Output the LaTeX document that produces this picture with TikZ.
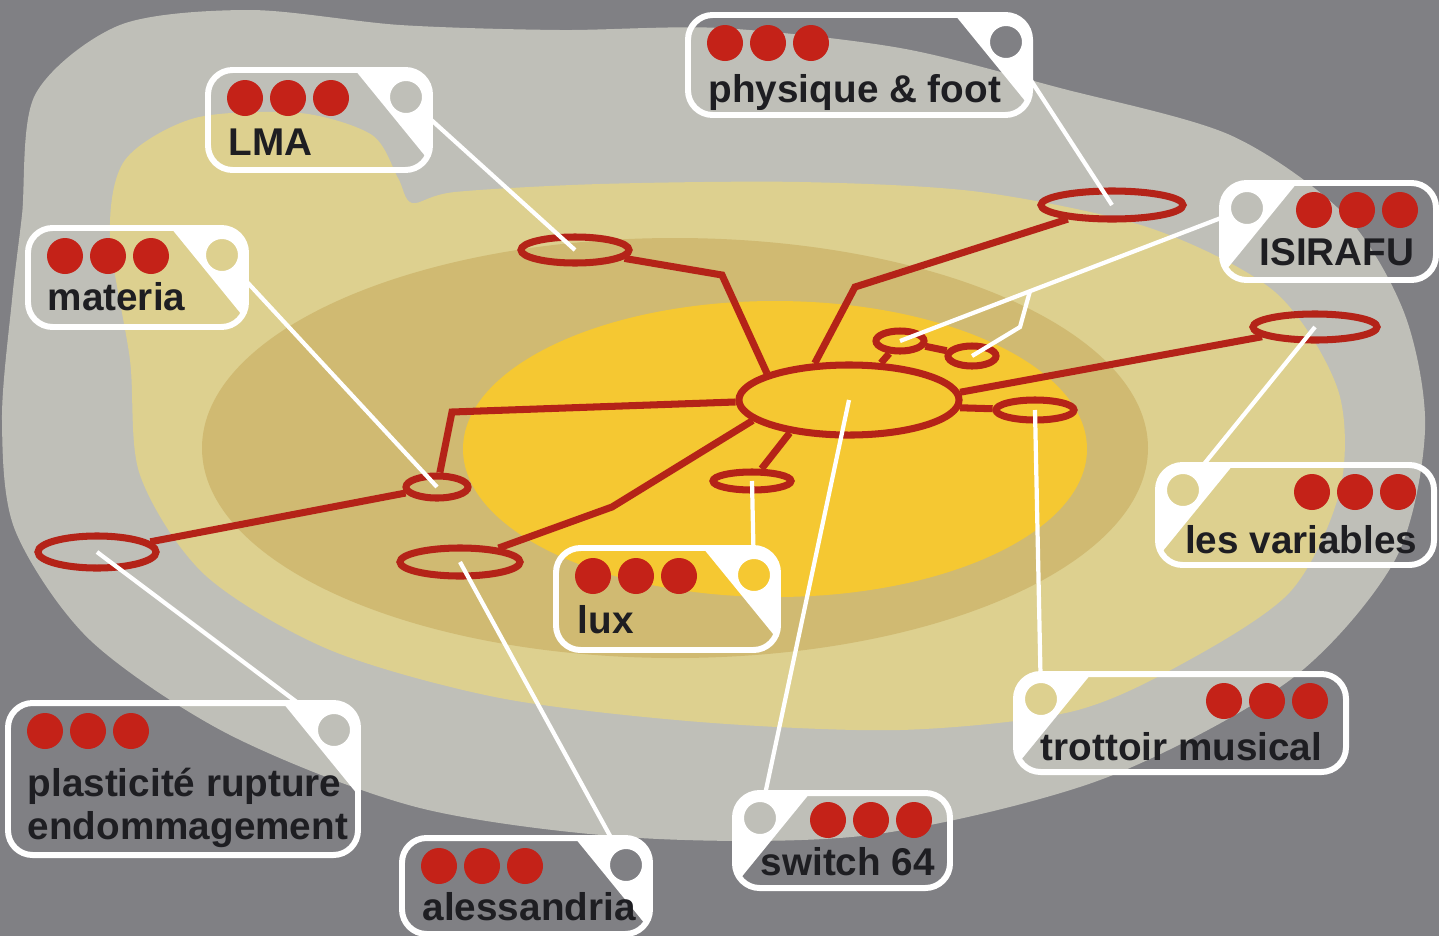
\documentclass[tikz,border=0pt]{standalone}
\usepackage{fontspec}
\setmainfont{Liberation Sans}
\usetikzlibrary{shapes.geometric}

\definecolor{bgdark}{RGB}{128,128,132}
\definecolor{bglight}{RGB}{191,191,184}
\definecolor{pale}{RGB}{221,208,143}
\definecolor{khaki}{RGB}{208,186,114}
\definecolor{sun}{RGB}{245,200,50}
\definecolor{netred}{RGB}{180,35,24}
\definecolor{dotred}{RGB}{196,34,24}
\definecolor{ink}{RGB}{30,30,34}

\tikzset{
  ring/.style={ellipse, draw=netred, line width=2pt, inner sep=0pt},
  link/.style={draw=netred, line width=2pt},
  wire/.style={draw=white, line width=1.2pt},
  tagline/.style={draw=white, line width=1.7pt, rounded corners=7pt},
  hole/.style={circle, minimum size=0.32cm, inner sep=0pt},
  dot/.style={fill=dotred},
  lbl/.style={text=ink, font=\fontsize{11}{12}\selectfont\bfseries, inner sep=0pt},
}

% tag with the hole at the top right / top left
\def\tagR#1(#2,#3)(#4,#5){%
  \begin{scope}
    \clip[rounded corners=7pt] (#2,#3) rectangle (#4,#5);
    \fill[white, even odd rule] (#4-75,#3) -- (#4,#3) -- (#4,#3+92) -- cycle (#4-24,#3+27) circle[radius=16];
  \end{scope}
  \draw[tagline] (#2,#3) rectangle (#4,#5);
  \node[hole] (#1) at (#4-24,#3+27) {};
  \foreach \i in {0,1,2} \fill[dot] (#2+37+43*\i,#3+28) circle[radius=18];
}
\def\tagL#1(#2,#3)(#4,#5){%
  \begin{scope}
    \clip[rounded corners=7pt] (#2,#3) rectangle (#4,#5);
    \fill[white, even odd rule] (#2+75,#3) -- (#2,#3) -- (#2,#3+92) -- cycle (#2+25,#3+25) circle[radius=16];
  \end{scope}
  \draw[tagline] (#2,#3) rectangle (#4,#5);
  \node[hole] (#1) at (#2+25,#3+25) {};
  \foreach \i in {0,1,2} \fill[dot] (#4-36-43*\i,#3+27) circle[radius=18];
}

\begin{document}
\begin{tikzpicture}[x=0.01cm, y=-0.01cm]
  \useasboundingbox (0,0) rectangle (1439,936);

  %%% background
  \fill[bgdark] (0,0) rectangle (1439,936);
  \fill[bglight] plot[smooth cycle] coordinates {(22,215) (35,95) (120,25) (250,10) (400,25) (560,30) (720,28) (900,48) (1060,88) (1230,135) (1345,215) (1405,315) (1425,430) (1395,560) (1290,680) (1100,780) (870,835) (640,838) (420,808) (230,735) (90,640) (15,530) (2,420) (12,300)};
  \fill[pale] plot[smooth cycle] coordinates {(110,235) (125,160) (195,118) (300,113) (372,135) (398,178) (412,203) (455,192) (600,184) (800,182) (980,192) (1150,228) (1275,292) (1338,390) (1340,490) (1290,592) (1180,665) (1070,712) (900,730) (700,722) (500,698) (330,650) (205,575) (140,475) (130,360)};
  \fill[khaki] (675,448) ellipse[x radius=473, y radius=210];
  \fill[sun] (775,449) ellipse[x radius=312, y radius=148];

  %%% network
  \node[ring, minimum width=2.2cm, minimum height=0.7cm] (eHub) at (849,400) {};
  \node[ring, minimum width=1.08cm, minimum height=0.26cm] (eLMA) at (575,250) {};
  \node[ring, minimum width=1.42cm, minimum height=0.28cm] (ePhys) at (1112,205) {};
  \node[ring, minimum width=0.48cm, minimum height=0.2cm] (eIsiA) at (900,341) {};
  \node[ring, minimum width=0.48cm, minimum height=0.2cm] (eIsiB) at (972,356) {};
  \node[ring, minimum width=1.24cm, minimum height=0.26cm] (eVar) at (1315,327) {};
  \node[ring, minimum width=0.78cm, minimum height=0.2cm] (eTrot) at (1035,410) {};
  \node[ring, minimum width=0.78cm, minimum height=0.18cm] (eLux) at (752,481) {};
  \node[ring, minimum width=1.2cm, minimum height=0.28cm] (eAle) at (460,562) {};
  \node[ring, minimum width=0.62cm, minimum height=0.22cm] (eMat) at (437,487) {};
  \node[ring, minimum width=1.18cm, minimum height=0.32cm] (ePla) at (97,552) {};

  \coordinate (kLMA) at (722,275);
  \coordinate (kPhys) at (855,287);
  \coordinate (kMat) at (452,412);
  \coordinate (kAle) at (612,507);

  \draw[link] (eHub.162) -- (kLMA) -- (eLMA);
  \draw[link] (eHub.133) -- (kPhys) -- (ePhys);
  \draw[link] (eHub) -- (eIsiA);
  \draw[link] (eIsiA) -- (eIsiB);
  \draw[link] (eHub.4) -- (eVar);
  \draw[link] (eHub.356) -- (eTrot);
  \draw[link] (eHub.181) -- (kMat) -- (eMat);
  \draw[link] (eMat) -- (ePla);
  \draw[link] (eHub.192) -- (kAle) -- (eAle);
  \draw[link] (eHub.209) -- (eLux);

  %%% tags
  \tagR{hLMA}(208,70)(430,170)
  \tagR{hPhys}(688,15)(1030,115)
  \tagL{hIsi}(1222,183)(1436,280)
  \tagR{hMat}(28,228)(246,327)
  \tagL{hVar}(1158,465)(1434,565)
  \tagR{hLux}(556,548)(778,650)
  \tagL{hTrot}(1016,674)(1346,772)
  \tagR{hPla}(8,703)(358,855)
  \tagR{hAle}(402,838)(650,934)
  \tagL{hSw}(735,793)(950,888)

  \node[lbl, anchor=base west] (tLMA) at (228,155) {LMA};
  \node[lbl, anchor=base west] (tPhys) at (708,102) {physique \& foot};
  \node[lbl, anchor=base east] (tIsi) at (1415,265) {ISIRAFU};
  \node[lbl, anchor=base west] (tMat) at (47,310) {materia};
  \node[lbl, anchor=base east] (tVar) at (1418,553) {les variables};
  \node[lbl, anchor=base west] (tLux) at (577,633) {lux};
  \node[lbl, anchor=base west] (tTrot) at (1040,760) {trottoir musical};
  \node[lbl, anchor=base west, align=left] (tPla) at (27,839) {plasticité rupture\\endommagement};
  \node[lbl, anchor=base west] (tAle) at (422,920) {alessandria};
  \node[lbl, anchor=base west] (tSw) at (760,875) {switch 64};

  %%% wires
  \coordinate (kIsi) at (1030,291);
  \coordinate (kIsiB) at (1020,327);
  \draw[wire] (hLMA) -- (eLMA.center);
  \draw[wire] (hPhys) -- (ePhys.center);
  \draw[wire] (hIsi) -- (eIsiA.center);
  \draw[wire] (kIsi) -- (kIsiB) -- (eIsiB.center);
  \draw[wire] (hMat) -- (eMat.center);
  \draw[wire] (hVar) -- (eVar.center);
  \draw[wire] (hLux) -- (eLux.center);
  \draw[wire] (hTrot) -- (eTrot.center);
  \draw[wire] (hPla) -- (ePla.center);
  \draw[wire] (hAle) -- (eAle.center);
  \draw[wire] (hSw) -- (eHub.center);
\end{tikzpicture}
\end{document}
